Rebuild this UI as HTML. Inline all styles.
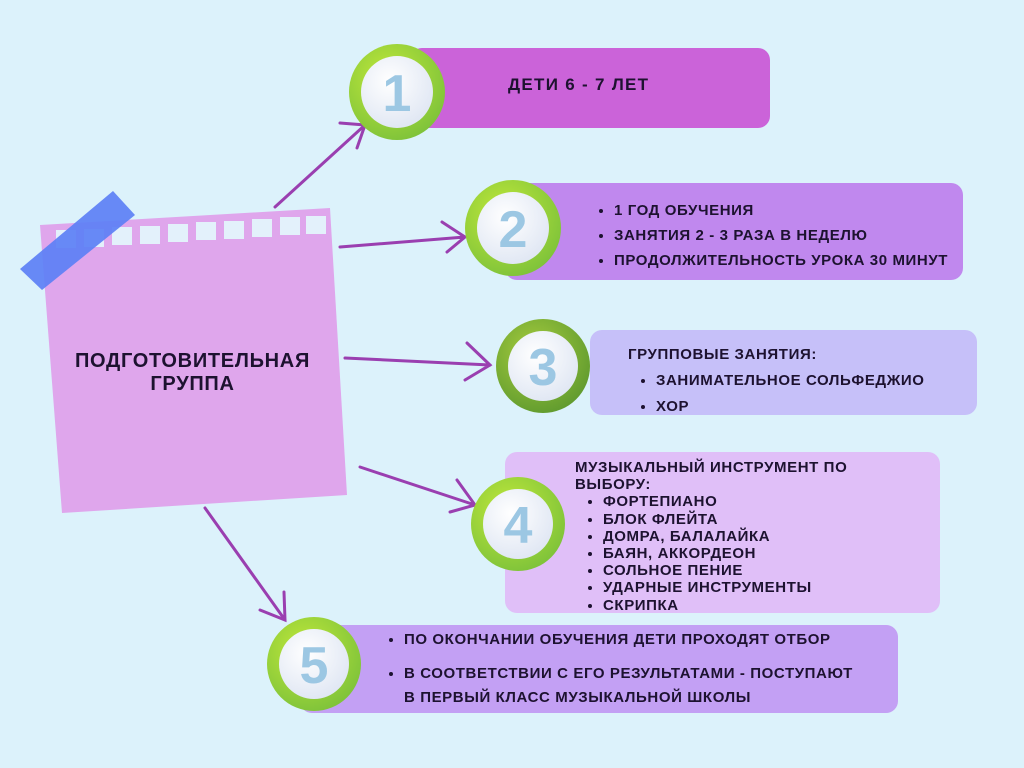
<!DOCTYPE html>
<html><head><meta charset="utf-8"><style>
body{margin:0;width:1024px;height:768px;background:#dcf2fb;position:relative;overflow:hidden;font-family:"Liberation Sans","DejaVu Sans",sans-serif;font-weight:bold;color:#1d1230}
.b{position:absolute;border-radius:12px}
.t{position:absolute;font-size:15px;line-height:17px;white-space:nowrap;letter-spacing:0.6px}
ul{margin:0;padding:0 0 0 22px}
li{margin:0}
</style></head><body>
<div class="b" style="left:410px;top:48px;width:360px;height:80px;background:#cb63d9"></div>
<div class="b" style="left:505px;top:183px;width:458px;height:97px;background:#c088ee"></div>
<div class="b" style="left:590px;top:330px;width:387px;height:85px;background:#c6c0f9"></div>
<div class="b" style="left:505px;top:452px;width:435px;height:161px;background:#e0bff8"></div>
<div class="b" style="left:300px;top:625px;width:598px;height:88px;background:#c3a0f4"></div>

<svg width="1024" height="768" style="position:absolute;left:0;top:0">
<defs>
<radialGradient id="g" cx="40%" cy="35%" r="70%"><stop offset="0" stop-color="#c0e83a"/><stop offset="1" stop-color="#7dc23a"/></radialGradient>
<radialGradient id="g3" cx="40%" cy="35%" r="70%"><stop offset="0" stop-color="#a6cc3e"/><stop offset="1" stop-color="#5f9a2e"/></radialGradient>
<radialGradient id="w" cx="40%" cy="35%" r="70%"><stop offset="0" stop-color="#ffffff"/><stop offset="1" stop-color="#dfe6f3"/></radialGradient>
</defs>
<polygon points="40,225 330,208 347,495 62,513" fill="#dfa6ec"/>
<g fill="#e3f1fb">
<rect x="56" y="230" width="20" height="18"/><rect x="84" y="229" width="20" height="18"/><rect x="112" y="227" width="20" height="18"/><rect x="140" y="226" width="20" height="18"/><rect x="168" y="224" width="20" height="18"/><rect x="196" y="222" width="20" height="18"/><rect x="224" y="221" width="20" height="18"/><rect x="252" y="219" width="20" height="18"/><rect x="280" y="217" width="20" height="18"/><rect x="306" y="216" width="20" height="18"/>
</g>
<polygon points="20,269 113,191 135,215 42,290" fill="#5c80f5" opacity="0.92"/>
<g stroke="#9a3fb0" stroke-width="3" fill="none" stroke-linecap="round">
<path d="M275,207 L365,125 M340,123 L365,125 L357,148"/>
<path d="M340,247 L465,237 M442,222 L465,237 L447,252"/>
<path d="M345,358 L490,365 M467,343 L490,365 L465,380"/>
<path d="M360,467 L475,505 M457,480 L475,505 L450,512"/>
<path d="M205,508 L285,620 M284,592 L285,620 L260,610"/>
</g>
<g font-family="Liberation Sans,sans-serif" font-weight="bold" font-size="52" fill="#9cc7e3" text-anchor="middle">
<circle cx="397" cy="92" r="48" fill="url(#g)"/><circle cx="397" cy="92" r="36" fill="url(#w)"/><text x="397" y="111">1</text>
<circle cx="513" cy="228" r="48" fill="url(#g)"/><circle cx="513" cy="228" r="36" fill="url(#w)"/><text x="513" y="247">2</text>
<circle cx="543" cy="366" r="47" fill="url(#g3)"/><circle cx="543" cy="366" r="35" fill="url(#w)"/><text x="543" y="385">3</text>
<circle cx="518" cy="524" r="47" fill="url(#g)"/><circle cx="518" cy="524" r="35" fill="url(#w)"/><text x="518" y="543">4</text>
<circle cx="314" cy="664" r="47" fill="url(#g)"/><circle cx="314" cy="664" r="35" fill="url(#w)"/><text x="314" y="683">5</text>
</g>
</svg>

<div class="t" style="left:40px;top:350px;width:305px;text-align:center;font-size:20px;line-height:23px;letter-spacing:0.7px">ПОДГОТОВИТЕЛЬНАЯ<br>ГРУППА</div>
<div class="t" style="left:508px;top:76px;font-size:17px;letter-spacing:1.3px">ДЕТИ 6 - 7 ЛЕТ</div>
<div class="t" style="left:592px;top:198px;line-height:25px"><ul><li>1 ГОД ОБУЧЕНИЯ</li><li>ЗАНЯТИЯ 2 - 3 РАЗА В НЕДЕЛЮ</li><li>ПРОДОЛЖИТЕЛЬНОСТЬ УРОКА 30 МИНУТ</li></ul></div>
<div class="t" style="left:628px;top:342px;line-height:26px">ГРУППОВЫЕ ЗАНЯТИЯ:<ul style="padding-left:28px"><li>ЗАНИМАТЕЛЬНОЕ СОЛЬФЕДЖИО</li><li>ХОР</li></ul></div>
<div class="t" style="left:575px;top:459px;line-height:17.2px">МУЗЫКАЛЬНЫЙ ИНСТРУМЕНТ ПО<br>ВЫБОРУ:<ul style="padding-left:28px"><li>ФОРТЕПИАНО</li><li>БЛОК ФЛЕЙТА</li><li>ДОМРА, БАЛАЛАЙКА</li><li>БАЯН, АККОРДЕОН</li><li>СОЛЬНОЕ ПЕНИЕ</li><li>УДАРНЫЕ ИНСТРУМЕНТЫ</li><li>СКРИПКА</li></ul></div>
<div class="t" style="left:382px;top:631px;line-height:17px"><ul><li>ПО ОКОНЧАНИИ ОБУЧЕНИЯ ДЕТИ ПРОХОДЯТ ОТБОР</li><li style="margin-top:14px;line-height:24px">В СООТВЕТСТВИИ С ЕГО РЕЗУЛЬТАТАМИ - ПОСТУПАЮТ<br>В ПЕРВЫЙ КЛАСС МУЗЫКАЛЬНОЙ ШКОЛЫ</li></ul></div>
</body></html>
